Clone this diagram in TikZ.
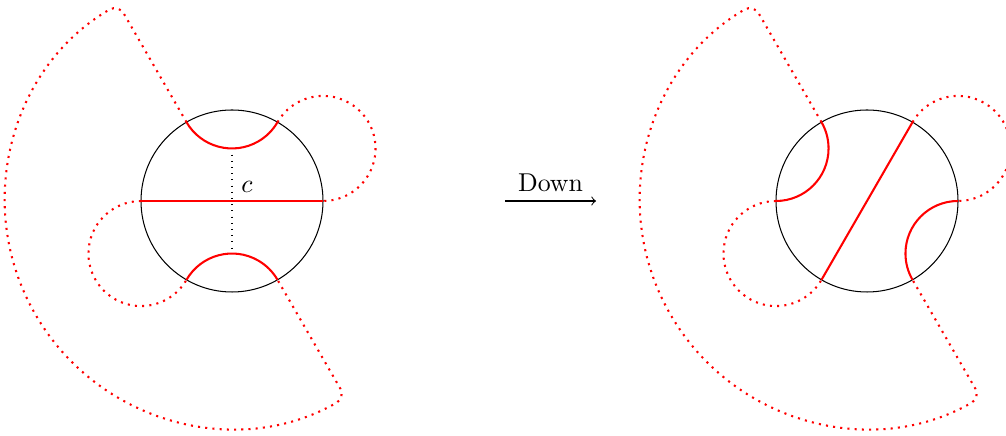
\documentclass[tikz,border=0pt]{standalone}
\usetikzlibrary{calc}
\begin{document}
\begin{tikzpicture}[x=0.3876pt,y=0.3876pt,
  disk/.style={draw=black,line width=0.4pt},
  geo/.style={draw=red,line width=0.8pt},
  outer/.style={draw=red,line width=0.8pt,dotted},
  sector/.style={draw=red,line width=0.8pt,dotted,rounded corners=4pt},
  guide/.style={draw=black,line width=0.4pt,dotted}]
\useasboundingbox (0,0) rectangle (1006,436);
\def\R{91}
\def\dd{105.08}
\def\rr{52.54}
\def\BR{227}
% ---------- left picture ----------
\coordinate (L) at (232,235);
\foreach \a in {0,60,120,180,240,300}{\coordinate (L\a) at ($(L)+(\a:\R)$);}
\coordinate (Lfar120) at ($(L)+(120:\BR)$);
\draw[disk] (L) circle[radius=\R];
% outside dotted parts
\draw[sector] (L120) -- (Lfar120) arc[start angle=120,end angle=300,radius=\BR] -- (L300);
\draw[outer] (L60) arc[start angle=150,end angle=-90,radius=\rr];
\draw[outer] (L180) arc[start angle=90,end angle=330,radius=\rr];
% inside
\coordinate (Ltop) at ($(L)+(0,52.54)$);
\coordinate (Lbot) at ($(L)+(0,-52.54)$);
\draw[guide] (Ltop) -- (Lbot);
\draw[geo] (L120) arc[start angle=210,end angle=330,radius=\rr];
\draw[geo] (L240) arc[start angle=150,end angle=30,radius=\rr];
\draw[geo] (L180) -- (L0);
\node[inner sep=0pt] (c) at (247,249.5) {$c$};
% ---------- arrow ----------
\coordinate (A1) at (505,235);
\coordinate (A2) at (596,235);
\draw[->,line width=0.4pt] (A1) -- node[above] (down) {Down} (A2);
% ---------- right picture ----------
\coordinate (Q) at (867,235);
\foreach \a in {0,60,120,180,240,300}{\coordinate (Q\a) at ($(Q)+(\a:\R)$);}
\coordinate (Qfar120) at ($(Q)+(120:\BR)$);
\draw[disk] (Q) circle[radius=\R];
\draw[sector] (Q120) -- (Qfar120) arc[start angle=120,end angle=300,radius=\BR] -- (Q300);
\draw[outer] (Q60) arc[start angle=150,end angle=-90,radius=\rr];
\draw[outer] (Q180) arc[start angle=90,end angle=330,radius=\rr];
\draw[geo] (Q180) arc[start angle=-90,end angle=30,radius=\rr];
\draw[geo] (Q0) arc[start angle=90,end angle=210,radius=\rr];
\draw[geo] (Q60) -- (Q240);
\end{tikzpicture}
\end{document}
